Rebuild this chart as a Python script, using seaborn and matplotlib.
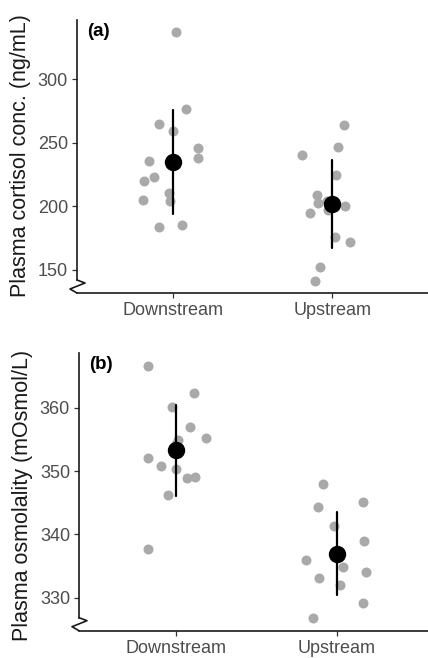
import numpy as np
import pandas as pd
import matplotlib
matplotlib.use("Agg")
import matplotlib.pyplot as plt
from matplotlib.lines import Line2D
from matplotlib.transforms import IdentityTransform
import seaborn as sns

# ---- data ----
sites = ["Downstream", "Upstream"]
cortisol_down = [337.5, 276.4, 265.0, 259.3, 245.7, 238.3, 235.7, 223.4, 220.0,
                 210.3, 204.8, 204.2, 185.1, 184.0]
cortisol_up = [263.8, 246.5, 240.7, 224.4, 208.9, 204.5, 202.4, 200.3, 196.9,
               194.5, 175.6, 172.2, 152.5, 141.3]
osmo_down = [366.6, 362.3, 360.1, 357.0, 355.3, 354.9, 354.3, 352.1, 350.8,
             350.4, 348.9, 349.0, 346.3, 337.7]
osmo_up = [347.9, 345.1, 344.3, 341.3, 339.0, 335.9, 334.9, 334.0, 333.2,
           332.0, 329.2, 326.8]
cortisol_ticks = [150, 200, 250, 300]
osmo_ticks = [330, 340, 350, 360]

df_a = pd.DataFrame({"site": [sites[0]] * len(cortisol_down) + [sites[1]] * len(cortisol_up),
                     "value": cortisol_down + cortisol_up})
df_b = pd.DataFrame({"site": [sites[0]] * len(osmo_down) + [sites[1]] * len(osmo_up),
                     "value": osmo_down + osmo_up})

sns.set_style("white")
plt.rcParams["font.family"] = ["Liberation Sans", "DejaVu Sans"]

W, H = 428, 658
fig = plt.figure(figsize=(W / 100, H / 100), dpi=100)
fig.patch.set_facecolor("white")

GRAY = "#a9a9a9"
TICKC = "#4d4d4d"


def panel(rect, df, ylim, xlim, ticks, ylabel, tag, label_xy, seed):
    ax = fig.add_axes(rect)
    np.random.seed(seed)
    sns.stripplot(data=df, x="site", y="value", order=sites, color=GRAY,
                  jitter=0.2, size=7.2, linewidth=0, ax=ax, zorder=2)
    sns.pointplot(data=df, x="site", y="value", order=sites, errorbar="sd",
                  color="black", linestyle="none", markers="o", markersize=10.5,
                  err_kws={"linewidth": 1.6}, capsize=0, ax=ax, zorder=3)
    ax.set_xlim(*xlim)
    ax.set_ylim(*ylim)
    ax.set_yticks(ticks)
    ax.set_xlabel("")
    ax.set_ylabel(ylabel, fontsize=15.5, color="#1a1a1a")
    ax.yaxis.label.set_rotation_mode("default")
    ax.yaxis.label.set_verticalalignment("center")
    ax.yaxis.set_label_coords(*label_xy)
    ax.tick_params(axis="both", labelsize=13, labelcolor=TICKC, color="#333333",
                   length=3.5, width=0.9, pad=3, left=True, bottom=True)
    for s in ["top", "right"]:
        ax.spines[s].set_visible(False)
    for s in ["left", "bottom"]:
        ax.spines[s].set_linewidth(1.2)
        ax.spines[s].set_color("#1a1a1a")
    ax.grid(False)
    # axis break on y
    fig.canvas.draw()
    bbox = ax.get_window_extent()
    hpx = bbox.height
    ybreak = ylim[0] + 13 / hpx * (ylim[1] - ylim[0])
    ax.spines["left"].set_bounds(ybreak, ylim[1])
    x0, y0 = bbox.x0, bbox.y0
    dx = [0, 8, -7, 0]
    dy = [13, 10, 4, 0]
    fig.add_artist(Line2D([x0 + d for d in dx], [y0 + d for d in dy],
                          transform=IdentityTransform(), color="#1a1a1a",
                          linewidth=1.2, clip_on=False))
    ax.text(0.03, 1 - 11 / hpx, tag, transform=ax.transAxes, fontsize=13.5,
            fontweight="bold", ha="left", va="center", color="black")
    return ax


panel([77 / W, 1 - 293 / H, (W - 77) / W, (293 - 20) / H], df_a,
      (131.8, 346.7), (-0.6, 1.6), cortisol_ticks,
      "Plasma cortisol conc. (ng/mL)", "(a)", (-0.16, 0.505), 3)
panel([79 / W, 1 - 630.7 / H, (W - 79) / W, (630.7 - 353.3) / H], df_b,
      (324.8, 368.6), (-0.6, 1.567), osmo_ticks,
      "Plasma osmolality (mOsmol/L)", "(b)", (-0.163, 0.486), 7)

fig.savefig("out.png", dpi=100, facecolor="white")
